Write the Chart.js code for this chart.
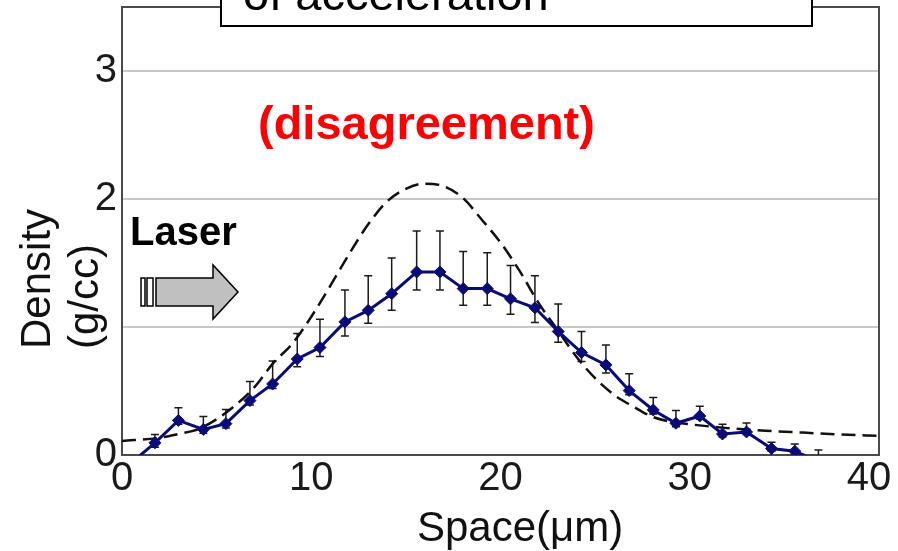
<!DOCTYPE html>
<html lang="en">
<head>
<meta charset="UTF-8">
<title>Density profile</title>
<script src="https://cdn.jsdelivr.net/npm/chart.js"></script>
<style>
  body { margin: 0; background: #ffffff; }
  #wrap { width: 898px; height: 551px; }
</style>
</head>
<body>
<div id="wrap"><canvas id="densityChart" width="898" height="551"></canvas></div>
<script>
// measured density (g/cc) along the target, with error bar ends
const spaceX   = [0.5, 1.74, 2.98, 4.30, 5.49, 6.76, 7.96, 9.26, 10.46, 11.78, 13.01, 14.25, 15.57, 16.80, 18.03, 19.30, 20.53, 21.82, 23.05, 24.28, 25.57, 26.80, 28.07, 29.27, 30.53, 31.73, 33.00, 34.32, 35.55, 36.80];
const density  = [-0.06, 0.095, 0.27, 0.20, 0.245, 0.425, 0.555, 0.75, 0.84, 1.04, 1.13, 1.26, 1.43, 1.43, 1.30, 1.30, 1.22, 1.15, 0.965, 0.80, 0.704, 0.503, 0.352, 0.248, 0.305, 0.164, 0.18, 0.05, 0.03, -0.05];
const errUpper = [null, 0.16, 0.37, 0.30, 0.355, 0.575, 0.735, 0.95, 1.06, 1.29, 1.40, 1.54, 1.75, 1.75, 1.59, 1.58, 1.48, 1.40, 1.18, 0.965, 0.86, 0.634, 0.45, 0.347, 0.38, 0.24, 0.25, 0.10, 0.085, 0.04];
const errLower = [null, 0.06, 0.24, 0.17, 0.21, 0.39, 0.52, 0.69, 0.77, 0.93, 1.03, 1.13, 1.29, 1.29, 1.17, 1.17, 1.10, 1.035, 0.88, 0.73, 0.64, 0.47, 0.32, 0.22, 0.28, 0.14, 0.16, 0.03, 0.01, -0.08];

// simulated profile (dashed curve)
const simX       = [0, 2, 3, 4, 5, 6, 7, 8, 9, 10, 11, 12, 13, 14, 15, 16, 17, 18, 19, 20, 21, 22, 23, 24, 25, 26, 27, 28, 29, 30, 32, 34, 36, 38, 40];
const simDensity = [0.11, 0.135, 0.165, 0.20, 0.28, 0.39, 0.53, 0.72, 0.87, 1.08, 1.32, 1.57, 1.80, 1.98, 2.08, 2.12, 2.10, 2.01, 1.84, 1.66, 1.44, 1.19, 0.98, 0.77, 0.60, 0.47, 0.38, 0.30, 0.26, 0.24, 0.21, 0.19, 0.175, 0.16, 0.15];

const xTicks = [0, 10, 20, 30, 40];
const xTickLabels = ['0', '10', '20', '30', '40\u2002']; // last one nudged in from the edge
const yTicks = [0, 1, 2, 3];
const yTickLabels = ['0', '', '2', '3'];

const FONT = '"Liberation Sans", Arial, sans-serif';
const NAVY = '#0b0b78';

const decorations = {
  id: 'decorations',
  beforeDatasetsDraw(chart) {
    const { ctx, chartArea: a, scales: { x, y } } = chart;
    ctx.save();
    // plot frame
    ctx.strokeStyle = '#4a4a4a';
    ctx.lineWidth = 2;
    ctx.strokeRect(a.left, a.top, a.right - a.left, a.bottom - a.top);

    // error bars, kept inside the plot
    ctx.beginPath();
    ctx.rect(a.left, a.top, a.right - a.left, a.bottom - a.top);
    ctx.clip();
    ctx.strokeStyle = '#1a1a1a';
    ctx.lineWidth = 1.5;
    spaceX.forEach((sx, i) => {
      if (errUpper[i] == null) return;
      const px = x.getPixelForValue(sx);
      const top = y.getPixelForValue(errUpper[i]);
      const bot = y.getPixelForValue(errLower[i]);
      ctx.beginPath();
      ctx.moveTo(px, top); ctx.lineTo(px, bot);
      ctx.moveTo(px - 4, top); ctx.lineTo(px + 4, top);
      ctx.moveTo(px - 4, bot); ctx.lineTo(px + 4, bot);
      ctx.stroke();
    });
    ctx.restore();
  },
  afterDraw(chart) {
    const { ctx } = chart;
    ctx.save();
    ctx.textAlign = 'left';
    ctx.textBaseline = 'alphabetic';

    // axis titles
    ctx.fillStyle = '#111';
    ctx.font = '42px ' + FONT;
    ctx.fillText('Space(\u03bcm)', 417, 541);
    ctx.save();
    ctx.translate(50, 349);
    ctx.rotate(-Math.PI / 2);
    ctx.fillText('Density', 0, 0);
    ctx.restore();
    ctx.save();
    ctx.translate(98, 349);
    ctx.rotate(-Math.PI / 2);
    ctx.fillText('(g/cc)', 0, 0);
    ctx.restore();

    // laser arrow
    ctx.fillStyle = '#c0c0c0';
    ctx.strokeStyle = '#000';
    ctx.lineWidth = 1.5;
    ctx.beginPath();
    ctx.moveTo(156, 278); ctx.lineTo(213, 278); ctx.lineTo(213, 265);
    ctx.lineTo(238, 292); ctx.lineTo(213, 319); ctx.lineTo(213, 306);
    ctx.lineTo(156, 306); ctx.closePath();
    ctx.fill(); ctx.stroke();
    ctx.fillStyle = '#fff';
    [[141, 4], [147, 6]].forEach(([sx, w]) => {
      ctx.fillRect(sx, 278, w, 28);
      ctx.strokeRect(sx, 278, w, 28);
    });

    ctx.fillStyle = '#000';
    ctx.font = 'bold 40px ' + FONT;
    ctx.fillText('Laser', 130, 245);

    ctx.fillStyle = '#ff0000';
    ctx.font = 'bold 47px ' + FONT;
    ctx.fillText('(disagreement)', 258, 139);

    // caption box across the top edge
    ctx.fillStyle = '#fff';
    ctx.fillRect(221, -5, 591, 31);
    ctx.strokeStyle = '#000';
    ctx.lineWidth = 2;
    ctx.strokeRect(221, -5, 591, 31);
    ctx.fillStyle = '#000';
    ctx.font = '47px ' + FONT;
    ctx.fillText('of acceleration', 243, 10);
    ctx.restore();
  }
};

new Chart(document.getElementById('densityChart'), {
  type: 'line',
  data: {
    datasets: [
      {
        label: 'Measured',
        data: spaceX.map((v, i) => ({ x: v, y: density[i] })),
        borderColor: NAVY,
        backgroundColor: NAVY,
        borderWidth: 3,
        pointStyle: 'rectRot',
        pointRadius: 6,
        pointBorderWidth: 1,
        tension: 0,
        clip: 0,
        order: 1
      },
      {
        label: 'Simulation',
        data: simX.map((v, i) => ({ x: v, y: simDensity[i] })),
        borderColor: '#111',
        borderWidth: 2.5,
        borderDash: [14, 7],
        pointRadius: 0,
        cubicInterpolationMode: 'monotone',
        clip: 0,
        order: 2
      }
    ]
  },
  options: {
    responsive: false,
    animation: false,
    layout: { padding: { left: 0, top: 7, right: 19, bottom: 0 } },
    plugins: { legend: { display: false }, tooltip: { enabled: false } },
    scales: {
      x: {
        type: 'linear',
        min: 0,
        max: 40,
        afterBuildTicks: s => { s.ticks = xTicks.map(v => ({ value: v })); },
        afterFit: s => { s.height = 96; s.paddingLeft = 0; s.paddingRight = 0; },
        grid: { display: false },
        border: { display: false },
        ticks: {
          font: { family: FONT, size: 40 },
          color: '#1a1a1a',
          padding: -8,
          maxRotation: 0,
          callback: (v, i) => xTickLabels[i]
        }
      },
      y: {
        min: 0,
        max: 3.5,
        afterBuildTicks: s => { s.ticks = yTicks.map(v => ({ value: v })); },
        afterFit: s => { s.width = 122; s.paddingTop = 0; s.paddingBottom = 0; },
        grid: { color: '#c8c8c8', lineWidth: 2, drawTicks: false },
        border: { display: false },
        ticks: {
          font: { family: FONT, size: 40 },
          color: '#1a1a1a',
          padding: 5,
          callback: (v, i) => yTickLabels[i]
        }
      }
    }
  },
  plugins: [decorations]
});
</script>
</body>
</html>
